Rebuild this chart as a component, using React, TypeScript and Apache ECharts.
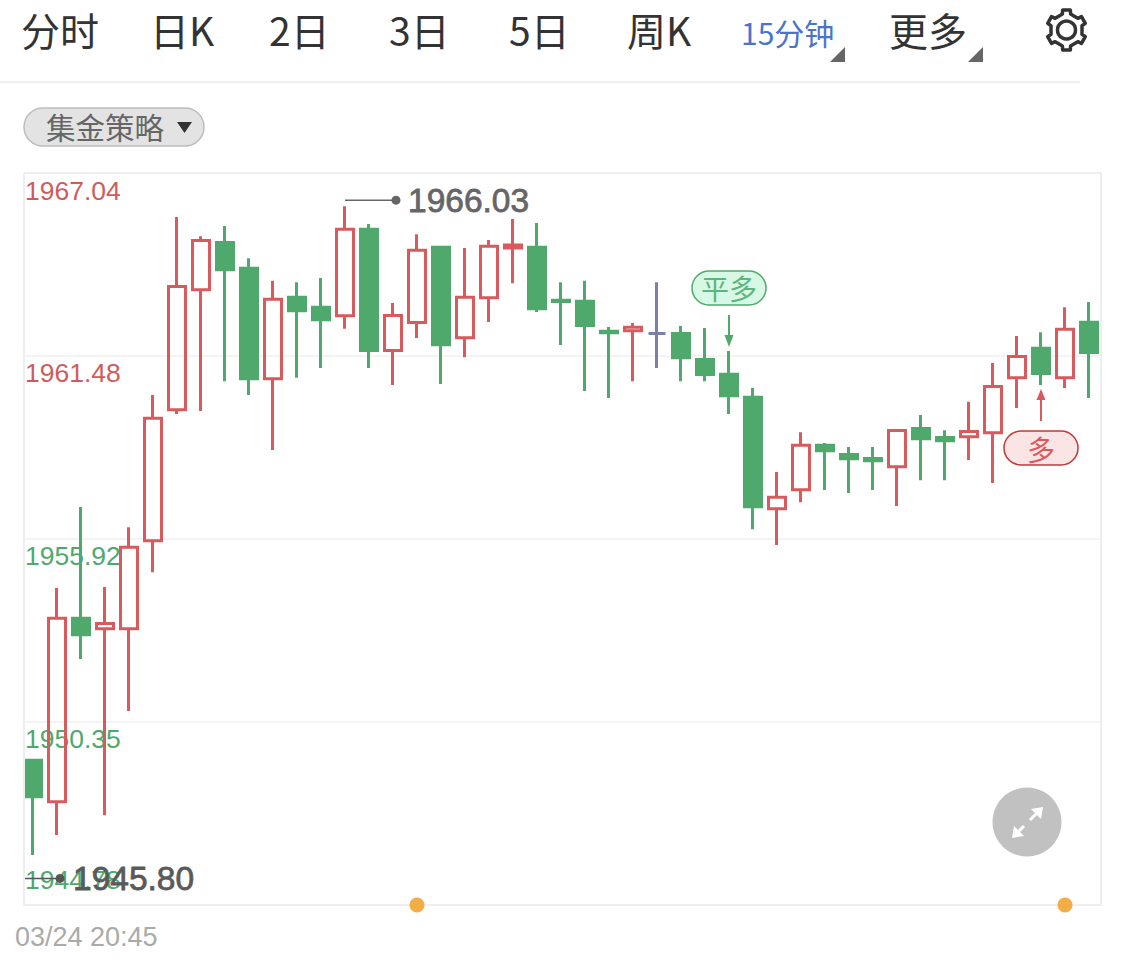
import React, { useEffect, useRef } from "react";
import * as echarts from "echarts";

const categories = Array.from({ length: 45 }, (_, i) => `K${i + 1}`);
const opens = [1949.18,1947.92,1953.5,1953.18,1953.18,1955.86,1959.84,1963.49,1964.93,1964.14,1960.78,1963.26,1962.96,1962.7,1965.33,1961.64,1962.49,1964.78,1962.03,1963.25,1964.76,1964.78,1963.17,1963.14,1962.23,1962.24,1962.16,1962.16,1961.37,1960.92,1960.22,1956.83,1957.41,1958.76,1958.48,1958.36,1958.11,1959.27,1959.0,1959.02,1959.14,1960.81,1961.71,1960.81,1962.5];
const closes = [1948.07,1953.5,1953.0,1953.34,1955.66,1959.58,1963.59,1964.99,1964.1,1960.78,1963.2,1962.85,1962.58,1965.33,1961.64,1962.71,1964.69,1961.82,1963.26,1964.81,1964.85,1962.91,1963.13,1962.4,1962.18,1962.35,1962.16,1961.42,1960.91,1960.27,1956.89,1957.18,1958.76,1958.59,1958.35,1958.29,1959.21,1958.96,1958.9,1959.18,1960.55,1961.46,1960.94,1962.29,1961.58];
const lows = [1946.3,1946.91,1952.26,1947.51,1950.68,1954.9,1959.71,1959.8,1960.71,1960.29,1958.62,1960.81,1961.11,1962.3,1961.11,1960.59,1962.02,1960.62,1961.44,1962.51,1963.69,1962.81,1961.81,1960.41,1960.2,1960.71,1961.11,1960.71,1960.71,1959.71,1956.21,1955.73,1957.03,1957.4,1957.31,1957.4,1956.91,1957.7,1957.7,1958.31,1957.61,1959.89,1960.59,1960.5,1960.2];
const highs = [1949.22,1954.42,1956.88,1954.45,1956.27,1960.29,1965.7,1965.12,1965.43,1964.45,1963.76,1963.72,1963.85,1966.03,1965.49,1963.09,1965.18,1964.82,1964.76,1965.0,1965.64,1965.52,1963.72,1963.76,1962.36,1962.48,1963.72,1962.39,1962.33,1961.63,1960.5,1957.95,1959.16,1958.83,1958.71,1958.71,1959.25,1959.68,1959.22,1960.08,1961.26,1962.08,1962.2,1962.96,1963.12];
const yTicks = [1944.78, 1950.35, 1955.92, 1961.48, 1967.04];
const tabs = [
  { text: "分时", x: 21 }, { text: "日K", x: 150 }, { text: "2日", x: 269 }, { text: "3日", x: 389 },
  { text: "5日", x: 509 }, { text: "周K", x: 627 }, { text: "更多", x: 889 },
];
const activeTab = "15分钟";
const pillLabel = "集金策略";
const dateLabel = "03/24 20:45";
const highLabel = { index: 13, value: 1966.03, text: "1966.03" };
const lowLabel = { index: 0, value: 1945.8, text: "1945.80" };
const closeSignal = { index: 29, value: 1961.63, text: "平多" };
const longSignal = { index: 42, value: 1960.59, text: "多" };
const signalDots = [16, 43];

const RED = "#d85a5c";
const TEXT_RED = "#cf5c5c";
const GREEN = "#4fa96d";
const SANS = '"Liberation Sans", Arial, sans-serif';
const CJK = '"Noto Sans CJK SC", sans-serif';

function gearPoints(cx: number, cy: number) {
  const pts: number[][] = [];
  for (let k = 0; k < 6; k++) {
    const a = -90 + 60 * k;
    [[-30, 16], [-15, 16.5], [-11, 20.5], [11, 20.5], [15, 16.5]].forEach(([d, r]) => {
      const t = ((a + d) * Math.PI) / 180;
      pts.push([cx + r * Math.cos(t) * 0.97, cy + r * Math.sin(t)]);
    });
  }
  return pts;
}

export default function App() {
  const ref = useRef<HTMLDivElement>(null);
  useEffect(() => {
    document.body.style.margin = "0";
    const chart = echarts.init(ref.current!, null, { renderer: "svg" });
    const ohlc = opens.map((o, i) => [o, closes[i], lows[i], highs[i]]);
    const option: any = {
      animation: false,
      backgroundColor: "#fff",
      grid: { left: 21, top: 173, width: 1080, height: 732 },
      xAxis: {
        type: "category",
        data: categories,
        boundaryGap: true,
        axisLine: { show: false },
        axisTick: { show: false },
        axisLabel: { show: false },
        splitLine: { show: false },
      },
      yAxis: {
        type: "value",
        min: 1944.78,
        max: 1967.04,
        axisLine: { show: false },
        axisTick: { show: false, customValues: yTicks },
        splitLine: { show: true, lineStyle: { color: "#f0f0f0", width: 1.5 } },
        axisLabel: {
          inside: true,
          margin: 4,
          customValues: yTicks,
          verticalAlign: "top",
          verticalAlignMinLabel: "bottom",
          hideOverlap: false,
          formatter: (v: number) => {
            const style = v === yTicks[0] ? "low" : v > 1960 ? "up" : "down";
            return `{${style}|${v.toFixed(2)}}`;
          },
          rich: {
            up: { color: TEXT_RED, fontSize: 26.5, fontFamily: SANS, padding: [4, 0, 0, 0] },
            down: { color: GREEN, fontSize: 26.5, fontFamily: SANS, padding: [4, 0, 0, 0] },
            low: { color: GREEN, fontSize: 26.5, fontFamily: SANS, padding: [0, 0, 12, 0] },
          },
        },
      },
      series: [
        {
          type: "candlestick",
          data: ohlc,
          barWidth: 18,
          clip: true,
          itemStyle: {
            color: "rgba(255,255,255,0)",
            color0: GREEN,
            borderColor: RED,
            borderColor0: GREEN,
            borderColorDoji: "#7a80a8",
            borderWidth: 3,
          },
        },
        {
          type: "scatter",
          data: signalDots.map((i) => [i, yTicks[0]]),
          symbol: "circle",
          symbolSize: 15,
          clip: false,
          z: 20,
          itemStyle: { color: "#f2ae44", opacity: 1 },
        },
      ],
    };
    chart.setOption(option);

    const px = (i: number, v: number) => chart.convertToPixel({ seriesIndex: 0 }, [i, v]) as number[];
    const [hx, hy0] = px(highLabel.index, highLabel.value);
    const hy = hy0 - 6;
    const [lx, ly0] = px(lowLabel.index, lowLabel.value);
    const ly = ly0 + 7;
    const [cx, cy] = px(closeSignal.index, closeSignal.value);
    const [mx, my] = px(longSignal.index, longSignal.value);

    const text = (t: string, x: number, y: number, fontSize: number, fill: string, family = CJK, extra: any = {}) => ({
      type: "text", z: 30, x, y,
      style: { text: t, fontSize, fill, fontFamily: family, textVerticalAlign: "middle", verticalAlign: "middle", ...extra },
    });

    const graphics: any[] = [
      // left cover: the first candle is cut by the plot edge
      { type: "rect", z: 10, shape: { x: 0, y: 160, width: 24, height: 760 }, style: { fill: "#fff" } },
      { type: "polyline", z: 11, shape: { points: [[24, 173], [1101, 173], [1101, 905], [24, 905], [24, 173]] }, style: { stroke: "#eeeeee", lineWidth: 2, fill: "none" } },
      // tabs
      ...tabs.map((t) => text(t.text, t.x, 29, 39, "#333333")),
      text(activeTab, 741, 32, 30, "#4a74c8"),
      { type: "polygon", z: 30, shape: { points: [[845, 47], [845, 62], [830, 62]] }, style: { fill: "#666" } },
      { type: "polygon", z: 30, shape: { points: [[983, 47], [983, 62], [968, 62]] }, style: { fill: "#666" } },
      { type: "polygon", z: 30, shape: { points: gearPoints(1066.5, 30) }, style: { fill: "none", stroke: "#333", lineWidth: 3.5, lineJoin: "round" } },
      { type: "circle", z: 30, shape: { cx: 1066.5, cy: 30, r: 9 }, style: { fill: "none", stroke: "#333", lineWidth: 3.5 } },
      { type: "line", z: 30, shape: { x1: 0, y1: 82, x2: 1080, y2: 82 }, style: { stroke: "#efefef", lineWidth: 2 } },
      // pill
      { type: "rect", z: 30, shape: { x: 24, y: 108, width: 180, height: 38, r: 19 }, style: { fill: "#e3e3e3", stroke: "#bdbdbd", lineWidth: 1.5 } },
      text(pillLabel, 46, 126, 29.5, "#666666"),
      { type: "polygon", z: 30, shape: { points: [[177, 122], [192, 122], [184.5, 133]] }, style: { fill: "#333" } },
      // extreme labels
      { type: "line", z: 30, shape: { x1: hx, y1: hy, x2: hx + 51, y2: hy }, style: { stroke: "#666", lineWidth: 1.5 } },
      { type: "circle", z: 30, shape: { cx: hx + 51, cy: hy, r: 4.5 }, style: { fill: "#666" } },
      text(highLabel.text, hx + 63, hy, 33.5, "#666666", SANS, { stroke: "#666666", lineWidth: 0.8 }),
      { type: "line", z: 30, shape: { x1: lx - 8, y1: ly, x2: lx + 27, y2: ly }, style: { stroke: "#555", lineWidth: 1.5 } },
      { type: "circle", z: 30, shape: { cx: lx + 27, cy: ly, r: 4.5 }, style: { fill: "#555" } },
      text(lowLabel.text, lx + 40, ly, 33.5, "#5a5a5a", SANS, { stroke: "#5a5a5a", lineWidth: 0.8 }),
      // close-long signal
      { type: "rect", z: 30, shape: { x: cx - 37, y: 271, width: 74, height: 34, r: 17 }, style: { fill: "#d8f8e6", stroke: "#4fa96d", lineWidth: 1.5 } },
      text(closeSignal.text, cx, 288, 28, "#5bb57d", CJK, { align: "center", textAlign: "center" }),
      { type: "line", z: 30, shape: { x1: cx, y1: cy - 36, x2: cx, y2: cy - 14 }, style: { stroke: GREEN, lineWidth: 2 } },
      { type: "polygon", z: 30, shape: { points: [[cx - 4.5, cy - 16], [cx + 4.5, cy - 16], [cx, cy - 4]] }, style: { fill: GREEN } },
      // long signal
      { type: "rect", z: 30, shape: { x: mx - 37, y: 431, width: 74, height: 34, r: 17 }, style: { fill: "#fbe4e4", stroke: "#c0393b", lineWidth: 1.5 } },
      text(longSignal.text, mx, 449, 28, "#d85a5c", CJK, { align: "center", textAlign: "center" }),
      { type: "line", z: 30, shape: { x1: mx, y1: my + 14, x2: mx, y2: my + 36 }, style: { stroke: RED, lineWidth: 2 } },
      { type: "polygon", z: 30, shape: { points: [[mx - 4.5, my + 15], [mx + 4.5, my + 15], [mx, my + 4]] }, style: { fill: RED } },
      // expand button
      { type: "circle", z: 30, shape: { cx: 1027, cy: 822, r: 34.5 }, style: { fill: "#c1c1c1" } },
      { type: "polygon", z: 31, shape: { points: [[1043, 807], [1041, 819], [1031, 809]] }, style: { fill: "#fff" } },
      { type: "line", z: 31, shape: { x1: 1036, y1: 814, x2: 1030, y2: 820 }, style: { stroke: "#fff", lineWidth: 3 } },
      { type: "polygon", z: 31, shape: { points: [[1012, 838], [1014, 826], [1024, 836]] }, style: { fill: "#fff" } },
      { type: "line", z: 31, shape: { x1: 1019, y1: 831, x2: 1024, y2: 826 }, style: { stroke: "#fff", lineWidth: 3 } },
      // date
      text(dateLabel, 15, 937, 27, "#aaaaaa", SANS),
    ];
    chart.setOption({ graphic: { elements: graphics } });
    return () => chart.dispose();
  }, []);
  return <div ref={ref} style={{ position: "absolute", left: 0, top: 0, width: 1125, height: 963 }} />;
}
